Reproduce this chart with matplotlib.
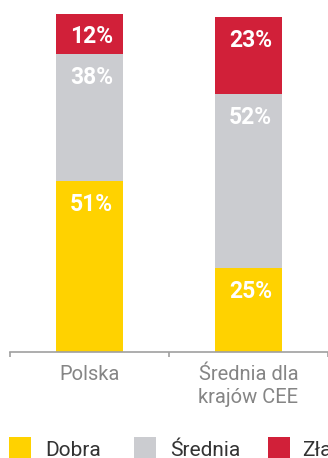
import matplotlib
matplotlib.use("Agg")
import matplotlib.pyplot as plt
from matplotlib.patches import Rectangle

# dane: ocena sytuacji (%)
kategorie = ["Polska", "Średnia dla\nkrajów CEE"]
serie = ["Dobra", "Średnia", "Zła"]
dobra = [51, 25]
srednia = [38, 52]
zla = [12, 23]
kolory = ["#FFD200", "#CBCCD0", "#D12039"]

plt.rcParams['font.family'] = ['Roboto', 'DejaVu Sans']

fig = plt.figure(figsize=(3.28, 4.58), dpi=100)
ax = fig.add_axes([10 / 328, 106 / 458, 318 / 328, 338 / 458])

x = range(len(kategorie))
dol = [0] * len(kategorie)
for wartosci, kolor in zip([dobra, srednia, zla], kolory):
    bary = ax.bar(x, wartosci, bottom=dol, width=0.42, color=kolor, linewidth=0)
    for b, w in zip(bary, wartosci):
        top = b.get_y() + b.get_height()
        ax.annotate(f"{w}%", (b.get_x() + b.get_width() / 2, top),
                    xytext=(1.5, -16.5), textcoords="offset points",
                    ha="center", va="center", color="white",
                    fontsize=16.5, fontweight="bold")
    dol = [d + w for d, w in zip(dol, wartosci)]

ax.set_xlim(-0.5, 1.5)
ax.set_ylim(0, 101)
for s in ["top", "right", "left"]:
    ax.spines[s].set_visible(False)
ax.spines["bottom"].set_color("#A0A0A0")
ax.spines["bottom"].set_linewidth(1.2)
ax.set_yticks([])
ax.set_xticks(list(x))
ax.set_xticklabels(kategorie, fontsize=14.5, color="#858585", fontweight="normal",
                   linespacing=1.3)
ax.tick_params(axis="x", which="major", length=0, pad=9)
ax.set_xticks([-0.5, 0.5, 1.5], minor=True)
ax.tick_params(axis="x", which="minor", length=3.5, color="#A0A0A0", width=1.2)

# legenda rysowana ręcznie
poz_kw = [9, 134, 268]
poz_txt = [45, 170, 302]
for nazwa, kolor, xk, xt in zip(serie, kolory, poz_kw, poz_txt):
    fig.add_artist(Rectangle((xk / 328, 0), 22 / 328, 21 / 458,
                             transform=fig.transFigure, color=kolor, lw=0))
    fig.text(xt / 328, 2 / 458, nazwa, fontsize=15, color="#333333",
             fontweight="normal", va="baseline", ha="left")

fig.savefig("out.png", dpi=100)
